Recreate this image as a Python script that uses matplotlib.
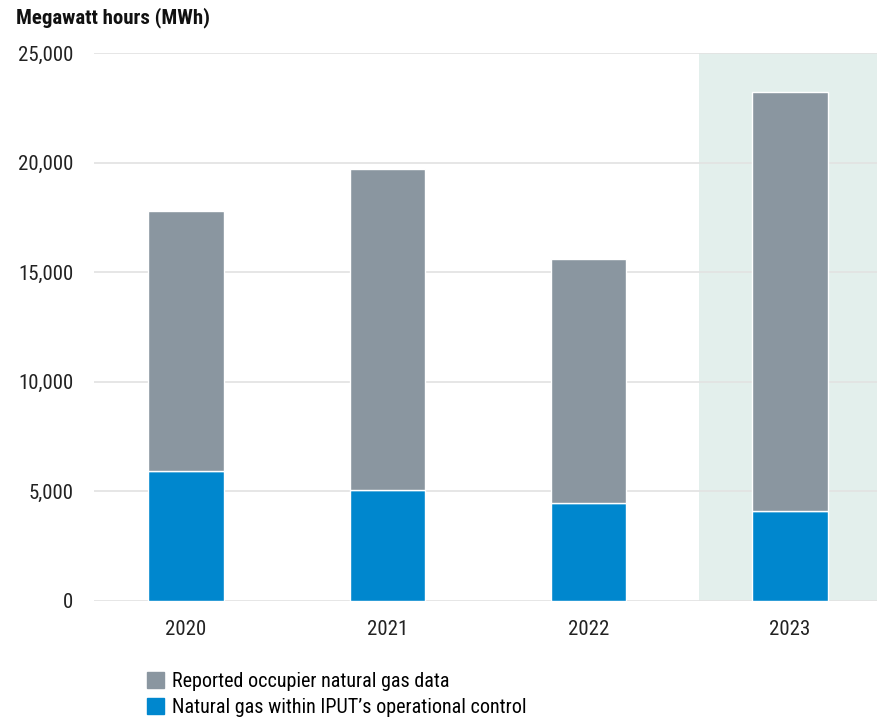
import matplotlib
matplotlib.use("Agg")
import matplotlib.pyplot as plt
from matplotlib.patches import Patch

years = ["2020", "2021", "2022", "2023"]
operational = [5930, 5060, 4470, 4100]
occupier = [11870, 14650, 11130, 19120]
yticks = [0, 5000, 10000, 15000, 20000, 25000]

plt.rcParams['font.family'] = ["Roboto Condensed", "Roboto", "DejaVu Sans"]

fig = plt.figure(figsize=(8.77, 7.24), dpi=100)
ax = fig.add_axes([94/877, 1-601/724, 1-94/877, (601-53)/724])

x = list(range(len(years)))
ax.axvspan(2.548, 3.432, color="#E3EFEC", zorder=0, lw=0)
for y in yticks:
    ax.axhline(y, color="#E2E2E2", lw=1.2, zorder=1)
w = 0.375
ax.bar(x, operational, width=w, color="#0087CE", edgecolor="white", lw=1, zorder=2)
ax.bar(x, occupier, bottom=operational, width=w, color="#8A96A0", edgecolor="white", lw=1, zorder=2)

ax.set_xlim(-0.457, 3.432)
ax.set_ylim(0, 25000)
ax.set_yticks(yticks)
ax.set_yticklabels([f"{v:,}" for v in yticks], fontsize=15, color="#222222")
ax.set_xticks(x)
ax.set_xticklabels(years, fontsize=15, color="#222222")
ax.tick_params(length=0)
ax.tick_params(axis="y", pad=15)
ax.tick_params(axis="x", pad=14)
for s in ax.spines.values():
    s.set_visible(False)

fig.text(16/877, 1-18/724, "Megawatt hours (MWh)", fontsize=15, fontweight="bold",
         va="center", ha="left", color="#111111")

handles = [Patch(color="#8A96A0"), Patch(color="#0087CE")]
labels = ["Reported occupier natural gas data", "Natural gas within IPUT\u2019s operational control"]
fig.legend(handles, labels, loc="upper left", bbox_to_anchor=(147/877, 1-672/724),
           frameon=False, fontsize=14.5, handlelength=0.85, handleheight=0.85,
           handletextpad=0.4, labelspacing=0.35, borderaxespad=0, borderpad=0)

fig.savefig("out.png", dpi=100)
